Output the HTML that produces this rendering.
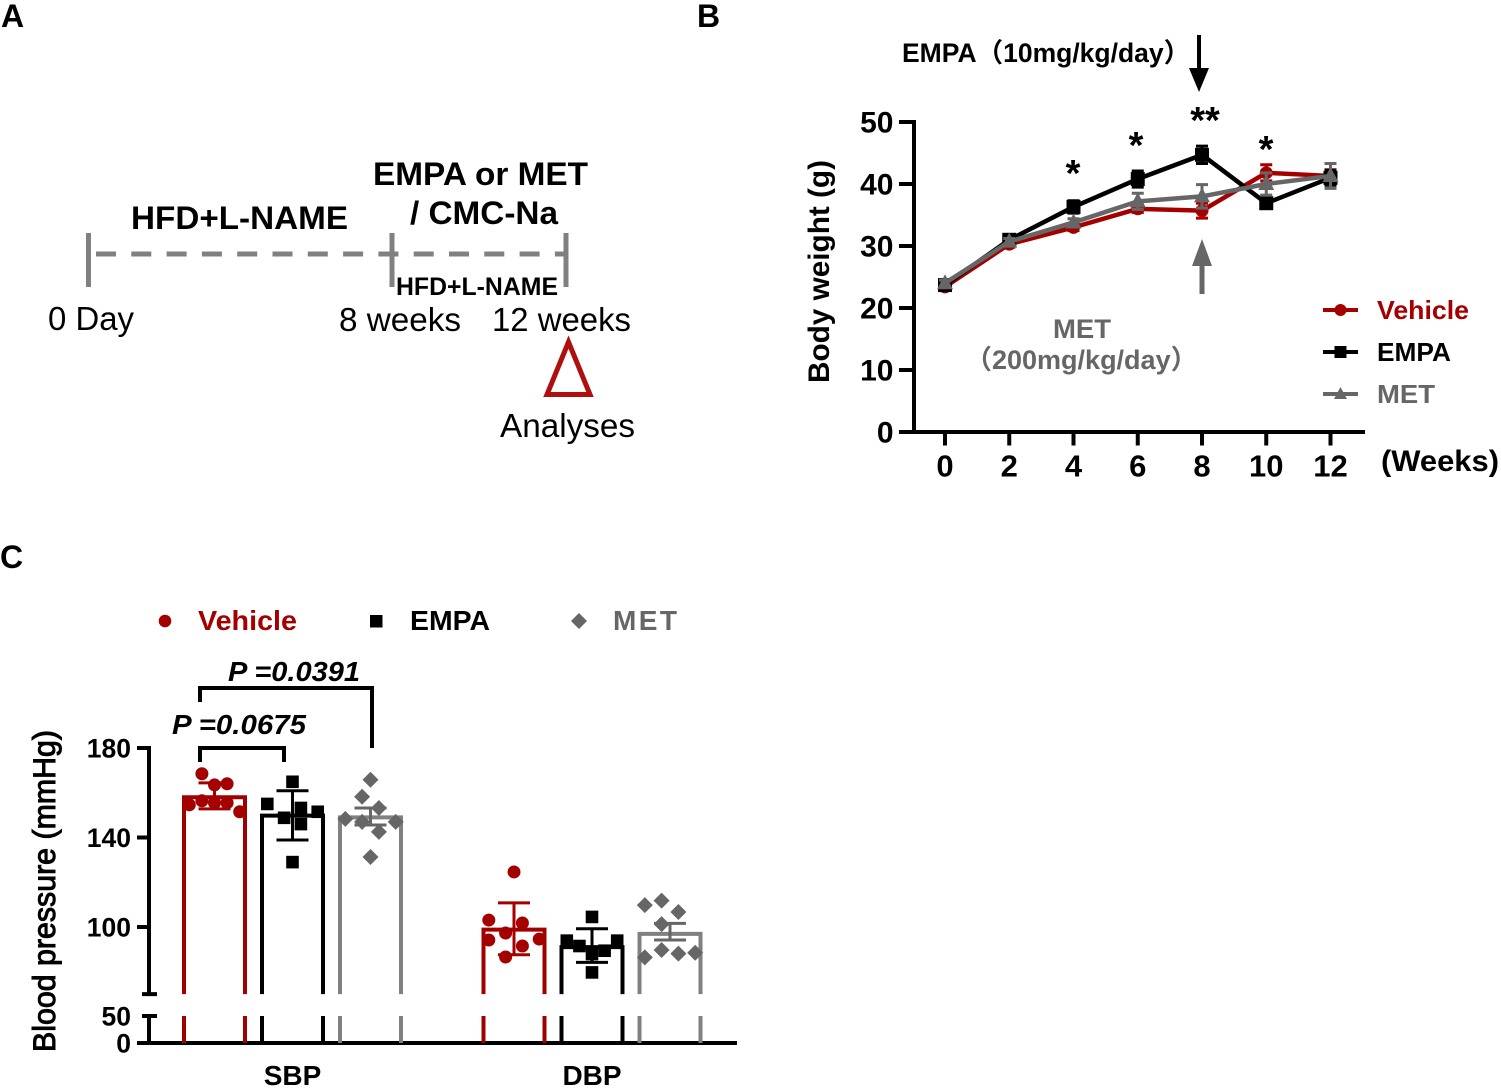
<!DOCTYPE html>
<html lang="en">
<head>
<meta charset="utf-8">
<title>Body weight and blood pressure figure</title>
<style>
html,body{margin:0;padding:0;background:#fff;}
svg{display:block;}
text{font-family:"Liberation Sans","Noto Sans CJK SC",sans-serif;}
.b{font-weight:bold;}
</style>
</head>
<body>
<svg id="fig" xmlns="http://www.w3.org/2000/svg" width="1501" height="1089" viewBox="0 0 1501 1089">
  <rect x="0" y="0" width="1501" height="1089" fill="#fff"/>

  <text class="b" x="1" y="27" font-size="32">A</text>
  <text class="b" x="697" y="27" font-size="32">B</text>
  <text class="b" x="0" y="568" font-size="32">C</text>

  <g>
    <line x1="96" y1="254" x2="566" y2="254" stroke="#808080" stroke-width="5" stroke-dasharray="20 15.3"/>
    <line x1="88.5" y1="233" x2="88.5" y2="287" stroke="#808080" stroke-width="5"/>
    <line x1="392" y1="233" x2="392" y2="287" stroke="#808080" stroke-width="5"/>
    <line x1="566" y1="233" x2="566" y2="287" stroke="#808080" stroke-width="5"/>
    <text class="b" x="131" y="229" font-size="32" textLength="217" lengthAdjust="spacingAndGlyphs">HFD+L-NAME</text>
    <text class="b" x="373" y="185" font-size="32" textLength="215" lengthAdjust="spacingAndGlyphs">EMPA or MET</text>
    <text class="b" x="410" y="224" font-size="32" textLength="148" lengthAdjust="spacingAndGlyphs">/ CMC-Na</text>
    <text class="b" x="396" y="295" font-size="25" textLength="162" lengthAdjust="spacingAndGlyphs">HFD+L-NAME</text>
    <text x="48" y="330" font-size="33" textLength="86" lengthAdjust="spacingAndGlyphs">0 Day</text>
    <text x="339" y="331" font-size="33" textLength="122" lengthAdjust="spacingAndGlyphs">8 weeks</text>
    <text x="492" y="331" font-size="33" textLength="139" lengthAdjust="spacingAndGlyphs">12 weeks</text>
    <polygon points="568.5,342 590,394.5 547,394.5" fill="none" stroke="#b00f0f" stroke-width="5"/>
    <text x="500" y="437" font-size="33" textLength="135" lengthAdjust="spacingAndGlyphs">Analyses</text>
  </g>

  <g>
    <text class="b" x="902" y="62" font-size="26.5">EMPA（10mg/kg/day）</text>
    <line x1="1199" y1="35" x2="1199" y2="72" stroke="#000" stroke-width="4"/>
    <polygon points="1189,68 1209,68 1199,92" fill="#000"/>
    <line x1="1202" y1="264" x2="1202" y2="294" stroke="#666" stroke-width="5"/>
    <polygon points="1192,266 1212,266 1202,239" fill="#666"/>
    <text class="b" x="1082" y="338" font-size="27" text-anchor="middle" fill="#666" textLength="58" lengthAdjust="spacingAndGlyphs">MET</text>
    <text class="b" x="965" y="369" font-size="27" fill="#666">（200mg/kg/day）</text>
    <text class="b" transform="translate(829,271.5) rotate(-90)" x="0" y="0" font-size="30" text-anchor="middle" textLength="223" lengthAdjust="spacingAndGlyphs">Body weight (g)</text>
    <text class="b" x="1381" y="471" font-size="30" textLength="118" lengthAdjust="spacingAndGlyphs">(Weeks)</text>
    <g id="bw-axes"></g>
    <g id="bw-series"></g>
    <text class="b" x="1073" y="186" font-size="38" text-anchor="middle">*</text>
    <text class="b" x="1136" y="158" font-size="38" text-anchor="middle">*</text>
    <text class="b" x="1205" y="133" font-size="38" text-anchor="middle">**</text>
    <text class="b" x="1266" y="162" font-size="38" text-anchor="middle">*</text>
    <g>
      <line x1="1323" y1="310" x2="1358" y2="310" stroke="#a50000" stroke-width="4"/>
      <circle cx="1340.5" cy="310" r="6" fill="#a50000"/>
      <text class="b" x="1377" y="319" font-size="26" fill="#a50000" textLength="92" lengthAdjust="spacingAndGlyphs">Vehicle</text>
      <line x1="1323" y1="352" x2="1358" y2="352" stroke="#000" stroke-width="4"/>
      <rect x="1334.5" y="346" width="12" height="12" fill="#000"/>
      <text class="b" x="1377" y="361" font-size="26" textLength="74" lengthAdjust="spacingAndGlyphs">EMPA</text>
      <line x1="1323" y1="394" x2="1358" y2="394" stroke="#666" stroke-width="4"/>
      <polygon points="1340.5,387 1347,399 1334,399" fill="#666"/>
      <text class="b" x="1377" y="403" font-size="26" fill="#666" textLength="58" lengthAdjust="spacingAndGlyphs">MET</text>
    </g>
  </g>

  <g>
    <g>
      <circle cx="165" cy="621" r="6.3" fill="#a50000"/>
      <text class="b" x="198" y="630" font-size="28" fill="#a50000" textLength="99" lengthAdjust="spacingAndGlyphs">Vehicle</text>
      <rect x="370" y="615" width="12.5" height="12.5" fill="#000"/>
      <text class="b" x="410" y="630" font-size="28" textLength="80" lengthAdjust="spacingAndGlyphs">EMPA</text>
      <polygon points="579,613 587,621 579,629 571,621" fill="#666"/>
      <text class="b" x="613" y="630" font-size="28" fill="#666" textLength="64">MET</text>
    </g>
    <text transform="translate(55,891) rotate(-90)" x="0" y="0" font-size="31.5" text-anchor="middle" stroke="#000" stroke-width="1" textLength="322" lengthAdjust="spacingAndGlyphs">Blood pressure (mmHg)</text>
    <g id="bp-axes"></g>
    <g id="bp-bars"></g>
    <path d="M200 762V748H284V762" fill="none" stroke="#000" stroke-width="4"/>
    <path d="M200 702V688H372V748" fill="none" stroke="#000" stroke-width="4"/>
    <text class="b" x="172" y="734" font-size="28" font-style="italic" textLength="134" lengthAdjust="spacingAndGlyphs">P =0.0675</text>
    <text class="b" x="228" y="681" font-size="28" font-style="italic" textLength="132" lengthAdjust="spacingAndGlyphs">P =0.0391</text>
  </g>
</svg>

<script>
// ---------- Panel B data ----------
const weeks = [0, 2, 4, 6, 8, 10, 12];
const weightTicks = [0, 10, 20, 30, 40, 50];
const vehicleWeight = [23.4, 30.3, 33.0, 36.0, 35.7, 41.8, 41.3];
const vehicleWeightErr = [0.5, 0.5, 0.5, 0.6, 1.2, 1.3, 1.0];
const empaWeight = [23.7, 31.0, 36.3, 40.8, 44.7, 36.9, 41.0];
const empaWeightErr = [0.5, 0.5, 1.0, 1.3, 1.4, 0.8, 1.2];
const metWeight = [24.0, 30.7, 33.8, 37.2, 38.0, 40.0, 41.3];
const metWeightErr = [0.5, 0.5, 0.6, 1.3, 1.9, 1.8, 2.0];

// ---------- Panel C data ----------
const bpGroups = ['SBP', 'DBP'];
const bpUpperTicks = [100, 140, 180];
const bpLowerTicks = [0, 50];
const bpMeans = [[158, 149.8, 149], [98.8, 91, 96.9]];
const bpErrMeans = [[158.6, 149.9, 149.4], [99.2, 91.7, 97.9]];
const bpErrs = [[5.8, 11, 3.8], [11.6, 7.5, 3.7]];
const sbpVehiclePoints = [168.5, 163.5, 164, 154.6, 156.4, 155.5, 155.5, 151.5];
const sbpVehicleSlots = [-1.5, 0, 1.5, -3, -1.5, 0, 1.5, 3];
const sbpEmpaPoints = [164.9, 155, 148.8, 153.2, 151.5, 146, 129];
const sbpEmpaSlots = [0, -3, -1, 1, 3, 1, 0];
const sbpMetPoints = [165.8, 158.2, 153.2, 148.3, 147, 147, 142.5, 131.3];
const sbpMetSlots = [0, -1, 1, -3, -1, 3, 1, 0];
const dbpVehiclePoints = [124.6, 103.1, 101.8, 97.3, 94.2, 94.6, 91.5, 86.6];
const dbpVehicleSlots = [0, -3, 1, -1, -3, 3, 1, -1];
const dbpEmpaPoints = [104.5, 93.9, 93.9, 91.5, 89.4, 87.9, 79.7];
const dbpEmpaSlots = [0, -3, 3, -1.5, 1.5, 0, 0];
const dbpMetPoints = [109.8, 111.8, 106.7, 101.3, 89.7, 88.1, 88.5, 86.4];
const dbpMetSlots = [-3, -1, 1, -1, -1, 1, 3, -3];

const NS = 'http://www.w3.org/2000/svg';
function mk(parent, tag, attrs, txt) {
  const el = document.createElementNS(NS, tag);
  for (const k in attrs) el.setAttribute(k, attrs[k]);
  if (txt !== undefined) el.textContent = txt;
  parent.appendChild(el);
  return el;
}

// ---------- Panel B scales ----------
const bwX = w => 945 + (w - 0) * (1330.5 - 945) / 12;
const bwY = v => 432 - v * (432 - 122) / 50;
const bwAxes = document.getElementById('bw-axes');
const bwSeries = document.getElementById('bw-series');

let axisEl = mk(bwAxes, 'line', {x1: 914, y1: bwY(50) - 2, x2: 914, y2: bwY(0), stroke: '#000', 'stroke-width': 4});


axisEl = mk(bwAxes, 'line', {x1: 899, y1: bwY(0), x2: 1365, y2: bwY(0), stroke: '#000', 'stroke-width': 4});



weightTicks.forEach(t => {
  const tick = mk(bwAxes, 'line', {x1: 899, y1: bwY(t), x2: 914, y2: bwY(t), stroke: '#000', 'stroke-width': 4});
  
  
  const label = mk(bwAxes, 'text', {x: 893.5, y: bwY(t) + 10.5, 'font-size': 30, 'font-weight': 'bold', 'text-anchor': 'end'}, String(t));
  
  
});
weeks.forEach(w => {
  const tick = mk(bwAxes, 'line', {x1: bwX(w), y1: bwY(0), x2: bwX(w), y2: 445.5, stroke: '#000', 'stroke-width': 4});
  
  
  const label = mk(bwAxes, 'text', {x: bwX(w), y: 476.5, 'font-size': 31, 'font-weight': 'bold', 'text-anchor': 'middle'}, String(w));
  
  
});

function drawWeightSeries(key, values, errs, color, shape) {
  const g = mk(bwSeries, 'g', {});
  
  
  values.forEach((v, i) => {
    const x = bwX(weeks[i]);
    const top = bwY(v + errs[i]);
    const bot = bwY(v - errs[i]);
    const err = mk(g, 'path', {d: `M${x} ${top}V${bot}M${x - 6} ${top}H${x + 6}M${x - 6} ${bot}H${x + 6}`, fill: 'none', stroke: color, 'stroke-width': 3});
    
    
  });
  const line = mk(g, 'polyline', {points: values.map((v, i) => bwX(weeks[i]) + ',' + bwY(v)).join(' '), fill: 'none', stroke: color, 'stroke-width': 4.5, 'stroke-linejoin': 'round'});
  
  
  values.forEach((v, i) => {
    const x = bwX(weeks[i]);
    const y = bwY(v);
    let m;
    if (shape === 'circle') m = mk(g, 'circle', {cx: x, cy: y, r: 6.5, fill: color});
    else if (shape === 'square') m = mk(g, 'rect', {x: x - 7, y: y - 7, width: 14, height: 14, fill: color});
    else m = mk(g, 'polygon', {points: `${x},${y - 9} ${x + 8},${y + 6} ${x - 8},${y + 6}`, fill: color});
    
    
  });
}
drawWeightSeries('vehicle', vehicleWeight, vehicleWeightErr, '#a50000', 'circle');
drawWeightSeries('empa', empaWeight, empaWeightErr, '#000', 'square');
drawWeightSeries('met', metWeight, metWeightErr, '#666', 'triangle');

// ---------- Panel C scales ----------
const bpUpperY = v => 927 - (v - 100) * (927 - 748) / 80;
const bpLowerY = v => 1043 - v * (1043 - 1016) / 50;
const BREAK_VALUE = 70;
const groupCenter = g => 292.5 + g * 299.5;
const seriesX = (g, s) => groupCenter(g) + (s - 1) * 78;
const SLOT = 8.4;
const BAR_HALF = 30.5;
const bpAxes = document.getElementById('bp-axes');
const bpBars = document.getElementById('bp-bars');

let bpAxis = mk(bpAxes, 'line', {x1: 149, y1: bpUpperY(180) - 2, x2: 149, y2: bpUpperY(BREAK_VALUE), stroke: '#000', 'stroke-width': 4});


bpAxis = mk(bpAxes, 'line', {x1: 142, y1: bpUpperY(BREAK_VALUE), x2: 157, y2: bpUpperY(BREAK_VALUE), stroke: '#000', 'stroke-width': 4});


bpAxis = mk(bpAxes, 'line', {x1: 149, y1: bpLowerY(50), x2: 149, y2: bpLowerY(0), stroke: '#000', 'stroke-width': 4});


bpAxis = mk(bpAxes, 'line', {x1: 142, y1: bpLowerY(50), x2: 157, y2: bpLowerY(50), stroke: '#000', 'stroke-width': 4});


bpAxis = mk(bpAxes, 'line', {x1: 137, y1: bpLowerY(0), x2: 737, y2: bpLowerY(0), stroke: '#000', 'stroke-width': 4});



bpUpperTicks.forEach(t => {
  const tick = mk(bpAxes, 'line', {x1: 137, y1: bpUpperY(t), x2: 150, y2: bpUpperY(t), stroke: '#000', 'stroke-width': 4});
  
  
  const label = mk(bpAxes, 'text', {x: 131, y: bpUpperY(t) + 9.5, 'font-size': 26.5, 'font-weight': 'bold', 'text-anchor': 'end'}, String(t));
  
  
});
bpLowerTicks.forEach(t => {
  const label = mk(bpAxes, 'text', {x: 131, y: bpLowerY(t) + 9.5, 'font-size': 26.5, 'font-weight': 'bold', 'text-anchor': 'end'}, String(t));
  
  
});
bpGroups.forEach((name, g) => {
  const label = mk(bpAxes, 'text', {x: groupCenter(g), y: 1085, 'font-size': 28, 'font-weight': 'bold', 'text-anchor': 'middle'}, name);
  
  
});

const seriesKeys = ['vehicle', 'empa', 'met'];
const barColors = ['#a00000', '#000', '#808080'];
const pointColors = ['#a50000', '#000', '#666'];
const pointSets = [
  [[sbpVehiclePoints, sbpVehicleSlots], [sbpEmpaPoints, sbpEmpaSlots], [sbpMetPoints, sbpMetSlots]],
  [[dbpVehiclePoints, dbpVehicleSlots], [dbpEmpaPoints, dbpEmpaSlots], [dbpMetPoints, dbpMetSlots]]
];

bpGroups.forEach((name, g) => {
  seriesKeys.forEach((key, s) => {
    const cx = seriesX(g, s);
    const color = barColors[s];
    const x0 = cx - BAR_HALF;
    const x1 = cx + BAR_HALF;
    const bar = mk(bpBars, 'path', {d: `M${x0} ${bpUpperY(BREAK_VALUE)}V${bpUpperY(bpMeans[g][s])}H${x1}V${bpUpperY(BREAK_VALUE)}`, fill: 'none', stroke: color, 'stroke-width': 4});
    
    
    const stub = mk(bpBars, 'path', {d: `M${x0} ${bpLowerY(50)}V${bpLowerY(0)}M${x1} ${bpLowerY(50)}V${bpLowerY(0)}`, fill: 'none', stroke: color, 'stroke-width': 4});
    
    

    const vals = pointSets[g][s][0];
    const slots = pointSets[g][s][1];
    vals.forEach((v, i) => {
      const px = cx + slots[i] * SLOT;
      const py = bpUpperY(v);
      let m;
      if (s === 0) m = mk(bpBars, 'circle', {cx: px, cy: py, r: 6.5, fill: pointColors[s]});
      else if (s === 1) m = mk(bpBars, 'rect', {x: px - 6.3, y: py - 6.3, width: 12.6, height: 12.6, fill: pointColors[s]});
      else m = mk(bpBars, 'polygon', {points: `${px},${py - 8} ${px + 8},${py} ${px},${py + 8} ${px - 8},${py}`, fill: pointColors[s]});
      
      
    });

    const top = bpUpperY(bpErrMeans[g][s] + bpErrs[g][s]);
    const bot = bpUpperY(bpErrMeans[g][s] - bpErrs[g][s]);
    const err = mk(bpBars, 'path', {d: `M${cx} ${top}V${bot}M${cx - 16} ${top}H${cx + 16}M${cx - 16} ${bot}H${cx + 16}`, fill: 'none', stroke: pointColors[s], 'stroke-width': 3});
    
    
  });
});
</script>
</body>
</html>
